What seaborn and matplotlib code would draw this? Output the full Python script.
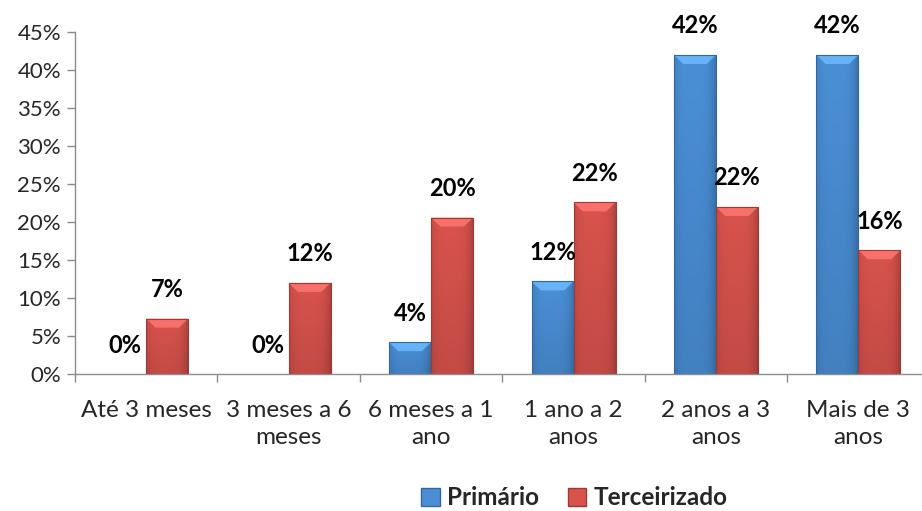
import numpy as np
import pandas as pd
import seaborn as sns
import matplotlib.pyplot as plt
from matplotlib.ticker import PercentFormatter, FixedLocator
from matplotlib.patches import Patch, Polygon
from matplotlib.colors import to_rgb

categorias = ["Até 3 meses", "3 meses a 6\nmeses", "6 meses a 1\nano",
              "1 ano a 2\nanos", "2 anos a 3\nanos", "Mais de 3\nanos"]
primario = [0.0, 0.0, 4.2, 12.2, 42.0, 42.0]
terceirizado = [7.3, 12.0, 20.6, 22.6, 22.0, 16.3]
rotulos_primario = ["0%", "0%", "4%", "12%", "42%", "42%"]
rotulos_terceirizado = ["7%", "12%", "20%", "22%", "22%", "16%"]
series = ["Primário", "Terceirizado"]

df = pd.DataFrame({
    "categoria": categorias * 2,
    "serie": [series[0]] * 6 + [series[1]] * 6,
    "valor": primario + terceirizado,
})

sns.set_style("white")
plt.rcParams["font.family"] = ["Lato", "DejaVu Sans"]

cores = {"Primário": "#4a8fd6", "Terceirizado": "#d9534d"}
bordas = {"Primário": "#34679e", "Terceirizado": "#9e3a36"}

fig = plt.figure(figsize=(9.22, 5.11), dpi=100)
ax = fig.add_axes([0.0813, 0.268, 0.927, 0.669])

sns.barplot(data=df, x="categoria", y="valor", hue="serie", palette=cores,
            width=0.59, ax=ax, legend=False, saturation=1)

ax.set_ylim(0, 45)
ax.set_xlim(-0.5, 5.5)

# efeito de gradiente tipo Excel
px_y = 45 / (0.669 * 511)
for cont, serie, rot in zip(ax.containers, series, [rotulos_primario, rotulos_terceirizado]):
    base = np.array(to_rgb(cores[serie]))
    for barra, txt in zip(cont, rot):
        x0, w, h = barra.get_x(), barra.get_width(), barra.get_height()
        if h > 0:
            xs = np.linspace(0, 1, 40)
            edge = 1 - 0.22 * (np.abs(xs - 0.45) / 0.55) ** 4
            ys = np.linspace(1, 0, 60)[:, None]
            vert = 0.9 + 0.1 * ys
            img = np.clip(base[None, None, :] * (edge[None, :] * vert)[:, :, None], 0, 1)
            im = ax.imshow(img, extent=(x0, x0 + w, 0, h), aspect="auto",
                           zorder=barra.get_zorder() + 0.1, interpolation="bilinear")
            im.set_clip_path(barra)
            bev = min(9 * px_y, h / 2)
            topo = np.clip(base * 1.12 + 0.1, 0, 1)
            ax.add_patch(Polygon([(x0, h), (x0 + w, h), (x0 + w * 0.78, h - bev),
                                  (x0 + w * 0.22, h - bev)], closed=True,
                                 facecolor=topo, edgecolor="none", alpha=0.85,
                                 zorder=barra.get_zorder() + 0.2))
            ax.add_patch(plt.Rectangle((x0, 0), w, h, facecolor="none",
                                       edgecolor=bordas[serie], linewidth=0.8,
                                       zorder=barra.get_zorder() + 0.3))
        xc = x0 + w / 2
        ax.annotate(txt, (xc, h), xytext=(0, 29), textcoords="offset pixels",
                    ha="center", va="center", fontsize=17, fontweight="bold",
                    color="black")

ax.set_ylim(0, 45)
ax.set_xlim(-0.5, 5.5)
ax.set_yticks(np.arange(0, 46, 5))
ax.yaxis.set_major_formatter(PercentFormatter(decimals=0))
ax.set_xlabel("")
ax.set_ylabel("")

for s in ["top", "right"]:
    ax.spines[s].set_visible(False)
for s in ["left", "bottom"]:
    ax.spines[s].set_color("#8c8c8c")
    ax.spines[s].set_linewidth(1.0)

ax.tick_params(axis="y", which="major", length=6, color="#8c8c8c", width=1,
               labelsize=16, pad=4, left=True)
ax.tick_params(axis="x", which="major", length=0, labelsize=17.5, pad=19)
ax.xaxis.set_minor_locator(FixedLocator(np.arange(-0.5, 6, 1)))
ax.tick_params(axis="x", which="minor", length=6, color="#8c8c8c", width=1, bottom=True)
for t in ax.get_xticklabels():
    t.set_linespacing(1.3)

# legenda
handles = [Patch(facecolor=cores[s], edgecolor=bordas[s], label=s) for s in series]
fig.legend(handles=handles, loc="center", bbox_to_anchor=(0.623, 0.026),
           ncol=2, frameon=False, handlelength=0.75, handleheight=0.75,
           columnspacing=1.2, handletextpad=0.3,
           prop={"weight": "bold", "size": 17.5})

fig.savefig("out.png", dpi=100)
